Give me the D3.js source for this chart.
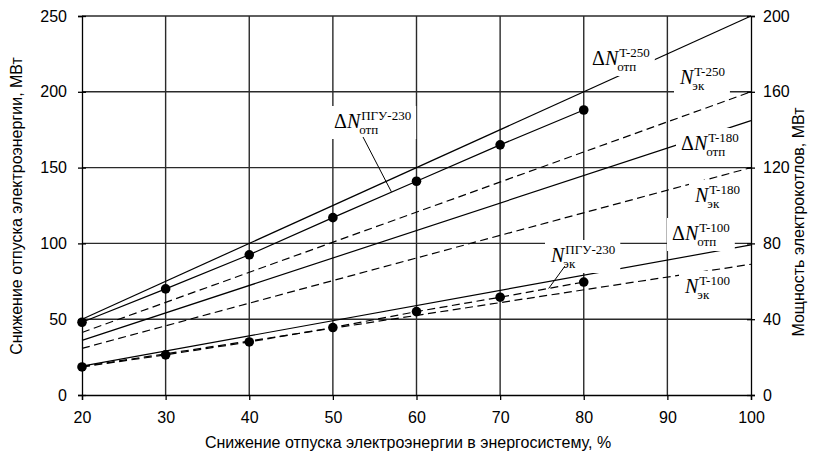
<!DOCTYPE html>
<html>
<head>
<meta charset="utf-8">
<script src="https://cdn.jsdelivr.net/npm/d3@7"></script>
<style>
  body { margin: 0; background: #fff; }
  svg { display: block; }
  .axis text { font-family: "Liberation Sans", Arial, sans-serif; font-size: 16px; fill: #000; }
  .axis path, .axis line { stroke: #000; stroke-width: 1.3; }
  .grid line { stroke: #2a2a2a; stroke-width: 1.4; }
  .ttl { font-family: "Liberation Sans", Arial, sans-serif; font-size: 16px; }
  .lbl text { font-family: "Liberation Serif", "Times New Roman", serif; }
</style>
</head>
<body>
<svg width="815" height="462"></svg>
<script>
// x: снижение отпуска в энергосистему, %
var xTicks = [20, 30, 40, 50, 60, 70, 80, 90, 100];
var yLeftTicks = [0, 50, 100, 150, 200, 250];
var yRightTicks = [0, 40, 80, 120, 160, 200];

// straight lines, values at 20 % and 100 %
var xEnds = [20, 100];
var dN_T250 = [50, 250];     // МВт, left axis
var dN_T180 = [36, 181];
var dN_T100 = [19, 99];
var Nek_T250 = [33, 160];    // МВт, right axis
var Nek_T180 = [24.6, 120];
var Nek_T100 = [15, 69];

// ПГУ-230 points
var xPgu = [20, 30, 40, 50, 60, 70, 80];
var dN_PGU = [48, 70, 92.5, 117, 141, 165, 188];          // left axis
var Nek_PGU = [14.8, 21.2, 28, 35.6, 44, 51.6, 59.6];     // right axis

var svg = d3.select("svg"),
    margin = {top: 16, right: 64, bottom: 67, left: 82},
    W = +svg.attr("width"), H = +svg.attr("height");

var x = d3.scaleLinear().domain([20, 100]).range([margin.left, W - margin.right]);
var yL = d3.scaleLinear().domain([0, 250]).range([H - margin.bottom, margin.top]);
var yR = d3.scaleLinear().domain([0, 200]).range([H - margin.bottom, margin.top]);

// grid
var grid = svg.append("g").attr("class", "grid");
grid.selectAll(".v").data(xTicks.slice(1, -1)).enter().append("line")
    .attr("x1", function(d){ return x(d); }).attr("x2", function(d){ return x(d); })
    .attr("y1", yL(0)).attr("y2", yL(250));
grid.selectAll(".h").data(yLeftTicks.slice(1)).enter().append("line")
    .attr("x1", x(20)).attr("x2", x(100))
    .attr("y1", function(d){ return yL(d); }).attr("y2", function(d){ return yL(d); });

// axes
var ax = svg.append("g").attr("class", "axis")
    .attr("transform", "translate(" + margin.left + ",0)")
    .call(d3.axisLeft(yL).tickValues(yLeftTicks).tickSizeOuter(0).tickSize(4).tickPadding(11));
ax.selectAll(".tick line").attr("x1", 4);

var ar = svg.append("g").attr("class", "axis")
    .attr("transform", "translate(" + (W - margin.right) + ",0)")
    .call(d3.axisRight(yR).tickValues(yRightTicks).tickSizeOuter(0).tickSize(4).tickPadding(8));
ar.selectAll(".tick line").attr("x1", -4);

var ab = svg.append("g").attr("class", "axis")
    .attr("transform", "translate(0," + (H - margin.bottom) + ")")
    .call(d3.axisBottom(x).tickValues(xTicks).tickSizeOuter(0).tickSize(5).tickPadding(12));

// titles
svg.append("text").attr("class", "ttl")
    .attr("transform", "translate(22,206) rotate(-90)")
    .attr("text-anchor", "middle")
    .text("Снижение отпуска электроэнергии, МВт");
svg.append("text").attr("class", "ttl")
    .attr("transform", "translate(804,222) rotate(-90)")
    .attr("text-anchor", "middle")
    .text("Мощность электрокотлов, МВт");
svg.append("text").attr("class", "ttl")
    .attr("x", 408).attr("y", 448)
    .attr("text-anchor", "middle")
    .text("Снижение отпуска электроэнергии в энергосистему, %");

// series
var lineL = d3.line().x(function(d){ return x(d[0]); }).y(function(d){ return yL(d[1]); });
var lineR = d3.line().x(function(d){ return x(d[0]); }).y(function(d){ return yR(d[1]); });

function draw(xs, ys, gen, dashed) {
  svg.append("path")
    .datum(d3.zip(xs, ys))
    .attr("d", gen)
    .attr("fill", "none")
    .attr("stroke", "#000")
    .attr("stroke-width", 1.2)
    .attr("stroke-dasharray", dashed ? "8,4.5" : null);
}

draw(xEnds, dN_T250, lineL, false);
draw(xEnds, dN_T180, lineL, false);
draw(xEnds, dN_T100, lineL, false);
draw(xPgu, dN_PGU, lineL, false);
draw(xEnds, Nek_T250, lineR, true);
draw(xEnds, Nek_T180, lineR, true);
draw(xEnds, Nek_T100, lineR, true);
draw(xPgu, Nek_PGU, lineR, true);

svg.selectAll(".dotL").data(d3.zip(xPgu, dN_PGU)).enter().append("circle")
    .attr("cx", function(d){ return x(d[0]); }).attr("cy", function(d){ return yL(d[1]); })
    .attr("r", 4.8).attr("fill", "#000");
svg.selectAll(".dotR").data(d3.zip(xPgu, Nek_PGU)).enter().append("circle")
    .attr("cx", function(d){ return x(d[0]); }).attr("cy", function(d){ return yR(d[1]); })
    .attr("r", 4.8).attr("fill", "#000");

// labels
var labels = svg.append("g").attr("class", "lbl");
function addLabel(px, py, delta, sup, sub) {
  var g = labels.append("g");
  var t = g.append("text").attr("x", px).attr("y", py).attr("font-size", 20);
  if (delta) t.append("tspan").text("Δ");
  t.append("tspan").attr("font-style", "italic").text("N");
  var w = t.node().getComputedTextLength();
  g.append("text").attr("x", px + w + 1).attr("y", py - 8).attr("font-size", 13).text(sup);
  g.append("text").attr("x", px + w - 1).attr("y", py + 6).attr("font-size", 13).text(sub);
  var b = g.node().getBBox();
  g.insert("rect", ":first-child")
    .attr("x", b.x - 5).attr("y", b.y - 2)
    .attr("width", b.width + 10).attr("height", b.height + 4)
    .attr("fill", "#fff");
}
addLabel(592, 65, true, "T-250", "отп");
addLabel(680, 84, false, "T-250", "эк");
addLabel(681, 150, true, "T-180", "отп");
addLabel(695, 202, false, "T-180", "эк");
addLabel(672, 240, true, "T-100", "отп");
addLabel(685, 293, false, "T-100", "эк");
addLabel(551, 262, false, "ПГУ-230", "эк");
addLabel(334, 128, true, "ПГУ-230", "отп");

// leaders
var leaders = [[363, 137, x(57), yL(134)], [565, 266, x(75.8), yR(56.2)]];
svg.selectAll(".leader").data(leaders).enter().append("line")
    .attr("x1", function(d){ return d[0]; }).attr("y1", function(d){ return d[1]; })
    .attr("x2", function(d){ return d[2]; }).attr("y2", function(d){ return d[3]; })
    .attr("stroke", "#000").attr("stroke-width", 1);
</script>
</body>
</html>
